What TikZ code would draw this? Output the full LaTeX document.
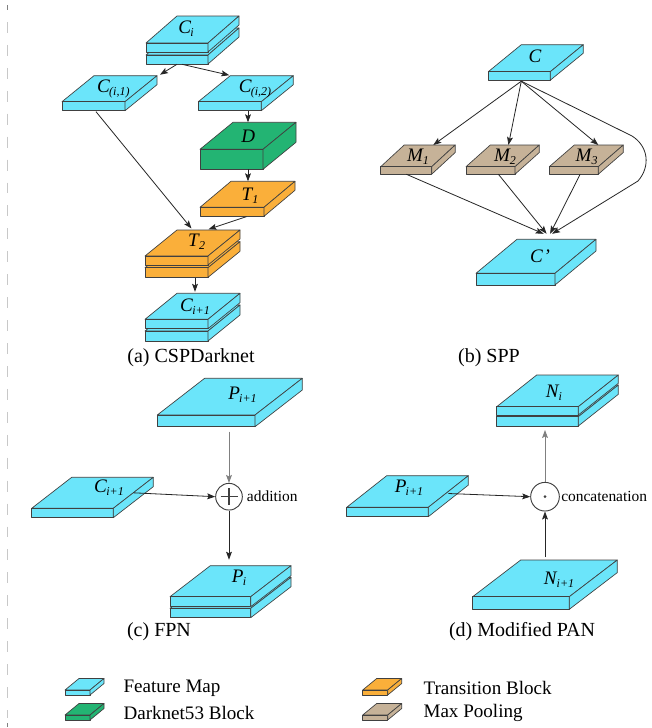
\documentclass[tikz,border=0pt]{standalone}
\usepackage{fontspec}
\setmainfont{Liberation Serif}
\usetikzlibrary{arrows.meta,calc}
\definecolor{fmap}{HTML}{6BE5FA}
\definecolor{dnet}{HTML}{23B473}
\definecolor{trans}{HTML}{FAAF3A}
\definecolor{mpool}{HTML}{C6B298}
\definecolor{edge}{HTML}{404040}
\definecolor{linec}{HTML}{262626}
\definecolor{dashc}{HTML}{C8C8C8}
\tikzset{
 slabline/.style={draw=edge, line width=0.5pt, line join=round},
 conn/.style={draw=linec, line width=0.6pt, -{Stealth[length=6pt,width=4.4pt,inset=1.2pt]}},
 lbl/.style={inner sep=0pt, font=\fontsize{14.3}{16}\selectfont},
 captxt/.style={font=\fontsize{15}{18}\selectfont, inner sep=0pt},
 legtxt/.style={font=\fontsize{14.3}{17}\selectfont, anchor=west, inner sep=0pt},
 optxt/.style={font=\fontsize{11.6}{14}\selectfont, anchor=west, inner sep=0pt},
 opnode/.style={circle, draw=edge, line width=0.7pt, fill=white, inner sep=0pt},
}
% name, x, y (front-top-left), front width, depth dx, depth dy, thickness, colour
\newcommand{\slab}[8]{%
 \path (#2,#3) coordinate (#1-ftl) ++(#4,0) coordinate (#1-ftr) ++(#5,-#6) coordinate (#1-btr) ++(-#4,0) coordinate (#1-btl);
 \path (#1-ftl) ++(0,#7) coordinate (#1-fbl);
 \path (#1-ftr) ++(0,#7) coordinate (#1-fbr);
 \path (#1-btr) ++(0,#7) coordinate (#1-bbr);
 \coordinate (#1-tc) at ($(#1-ftl)!0.5!(#1-btr)$);
 \coordinate (#1-fbc) at ($(#1-fbl)!0.5!(#1-fbr)$);
 \coordinate (#1-btc) at ($(#1-btl)!0.5!(#1-btr)$);
 \filldraw[slabline, fill=#8] (#1-ftl) -- (#1-ftr) -- (#1-btr) -- (#1-btl) -- cycle;
 \filldraw[slabline, fill=#8] (#1-ftl) -- (#1-ftr) -- (#1-fbr) -- (#1-fbl) -- cycle;
 \filldraw[slabline, fill=#8] (#1-ftr) -- (#1-btr) -- (#1-bbr) -- (#1-fbr) -- cycle;
}
\newcommand{\mylab}[2]{\textit{#1}\kern-0.6pt\raisebox{-0.35ex}{\fontsize{9}{9}\selectfont\textit{#2}}}
\begin{document}
\begin{tikzpicture}[x=0.75pt,y=-0.75pt]
\useasboundingbox[fill=white] (0,0) rectangle (652,728);
% left dashed rule
\draw[dashc, line width=0.75pt, dash pattern=on 8.2pt off 9pt] (7.3,22) -- (7.3,718);
\draw[gray, line width=0.9pt] (7.3,5) -- (7.3,10);
\draw[gray, line width=0.9pt] (7.3,723) -- (7.3,727);

% ===== (a) CSPDarknet =====
\slab{Cib}{146}{55}{62}{31}{27}{9}{fmap}
\slab{Ci}{146}{43}{62}{31}{27}{9}{fmap}
\slab{Ca}{62}{101.7}{63}{32}{26}{9}{fmap}
\slab{Cb}{198.3}{101.7}{63}{32}{26}{9}{fmap}
\slab{D}{200}{149.3}{63}{33}{27}{20}{dnet}
\slab{T1}{200}{207.3}{64}{31}{26}{9}{trans}
\slab{T2b}{145}{267.7}{63}{32}{26}{9.6}{trans}
\slab{T2}{145}{256}{63}{32}{26}{9}{trans}
\slab{Cnb}{145}{331}{63}{32}{26}{10}{fmap}
\slab{Cn}{145}{319.3}{63}{32}{26}{9.4}{fmap}
\node[lbl] (lCi) at (186,29) {\mylab{C}{i}};
\node[lbl] (lCa) at (113.3,89) {\mylab{C}{(i,1)}};
\node[lbl] (lCb) at (255,89) {\mylab{C}{(i,2)}};
\node[lbl] (lD) at (248.3,136.7) {\textit{D}};
\node[lbl] (lT1) at (250,196) {\mylab{T}{1}};
\node[lbl] (lT2) at (196.7,241.7) {\mylab{T}{2}};
\node[lbl] (lCn) at (195,306.7) {\mylab{C}{i+1}};
\draw[conn] ($(Cib-fbc)+(0,0.3)$) -- ($(Ca-btr)+(3,-1)$);
\draw[conn] ($(Cib-fbc)+(5,0.3)$) -- ($(Cb-btl)+(-1,-0.5)$);
\draw[conn] (D-tc |- Cb-fbl) -- (D-tc |- D-btl);
\draw[conn] (D-tc |- D-fbl) -- (D-tc |- T1-btl);
\draw[conn] ($(Ca-fbc)+(2.5,1)$) -- ($(T2-tc |- T2-btl)+(-1,-1.5)$);
\draw[conn] ($(T1-tc |- T1-fbl)+(-1,0.3)$) -- ($(T2-btc)+(0,-0.7)$);
\draw[conn] ($(Cn-tc |- T2b-fbl)+(2.5,1)$) -- ($(Cn-tc |- Cn-btl)+(2.5,-1.5)$);
\node[captxt] (capa) at (191,358) {(a) CSPDarknet};

% ===== (b) SPP =====
\slab{C}{488.3}{71.7}{62}{33}{27}{8.5}{fmap}
\slab{M1}{380.7}{166.7}{51}{23.5}{21.7}{7.5}{mpool}
\slab{M2}{466}{166.7}{49}{24.3}{21.7}{7.5}{mpool}
\slab{M3}{549.3}{166.7}{49}{25}{21.7}{7.5}{mpool}
\slab{Cp}{476}{273.3}{79}{41}{34}{11.7}{fmap}
\node[lbl] (lC) at (535,56.7) {\textit{C}};
\node[lbl] (lM1) at (418,157) {\mylab{M}{1}};
\node[lbl] (lM2) at (505,157) {\mylab{M}{2}};
\node[lbl] (lM3) at (586.7,157) {\mylab{M}{3}};
\node[lbl] (lCp) at (540,256.7) {\textit{C\kern0.5pt'}};
\coordinate (Cpin) at ($($(Cp-btl)!0.4!(Cp-btr)$)+(0,-5.5)$);
\coordinate (Cout) at ($(C-fbc)+(2,1)$);
\draw[conn] (Cout) -- ($(M1-btl)!0.57!(M1-btr)$);
\draw[conn] (Cout) -- ($(M2-btl)!0.37!(M2-btr)$);
\draw[conn] (Cout) -- ($(M3-btl)!0.49!(M3-btr)$);
\draw[conn] (Cout) -- (632,136) .. controls (648,146) and (651,166) .. (638,181) -- ($(Cpin)+(3.5,0)$);
\draw[conn] (M1-fbc) -- ($(Cpin)+(-5,0)$);
\draw[conn] ($(M2-fbl)!0.66!(M2-fbr)$) -- ($(Cpin)+(-2,0)$);
\draw[conn] ($(M3-fbl)!0.63!(M3-fbr)$) -- ($(Cpin)+(1.5,0)$);
\node[captxt] (capb) at (489,358) {(b) SPP};

% ===== (c) FPN =====
\slab{Pa}{157.3}{415}{97.7}{47.3}{36.7}{11.7}{fmap}
\slab{Cf}{31.7}{508.3}{81.6}{40}{31}{9.4}{fmap}
\slab{Pib}{170}{608.3}{80.7}{40.3}{31}{9.4}{fmap}
\slab{Pi}{170}{596.7}{80.7}{40.3}{31}{10}{fmap}
\node[lbl] (lPa) at (242.5,395) {\mylab{P}{i+1}};
\node[lbl] (lCf) at (109,488) {\mylab{C}{i+1}};
\node[lbl] (lPi) at (239,578) {\mylab{P}{i}};
\node[opnode, minimum size=20pt] (add) at (229,496.7) {};
\draw[edge, line width=0.9pt] (add.center) +(-8.5,0) -- +(8.5,0) +(0,-8.5) -- +(0,8.5);
\node[optxt] (addt) at (246.7,496.7) {addition};
\draw[conn, draw=gray] ($(add |- Pa-fbl)+(0,5)$) -- (add.north);
\draw[conn] ($(Cf-ftr)!0.5!(Cf-btr)$) -- (add.west);
\draw[conn] (add.south) -- ($(add |- Pi-btl)+(0,-6)$);
\node[captxt] (capc) at (159,632) {(c) FPN};

% ===== (d) Modified PAN =====
\slab{Nib}{496.7}{416.7}{81.6}{40}{31.7}{9.3}{fmap}
\slab{Ni}{496.7}{406.7}{81.6}{40}{31.7}{8.3}{fmap}
\slab{Pd}{346.7}{507.3}{81.6}{40}{31.6}{9.4}{fmap}
\slab{Nn}{472.7}{596.7}{96.6}{48}{36.7}{12.6}{fmap}
\node[lbl] (lNi) at (554,393) {\mylab{N}{i}};
\node[lbl] (lPd) at (409,488) {\mylab{P}{i+1}};
\node[lbl] (lNn) at (559,580) {\mylab{N}{i+1}};
\node[opnode, minimum size=21.5pt] (cat) at (545,496.7) {};
\fill[edge] (cat.center) circle (1.5);
\node[optxt] (catt) at (561,496.7) {concatenation};
\draw[conn] ($(Pd-ftr)!0.5!(Pd-btr)+(0,2)$) -- (cat.west);
\draw[conn] ($(cat |- Nn-btl)+(0,-3)$) -- (cat.south);
\draw[conn, draw=gray] (cat.north) -- ($(cat |- Nib-fbl)+(0,4)$);
\node[captxt] (capd) at (522,632) {(d) Modified PAN};

% ===== legend =====
\slab{Lf}{65}{690}{25}{14}{11.5}{5}{fmap}
\slab{Ld}{65}{715}{25}{14}{11.5}{5}{dnet}
\slab{Lt}{362.7}{690}{25}{14}{11.5}{5}{trans}
\slab{Lm}{362.7}{715}{25}{14}{11.5}{5}{mpool}
\node[legtxt] (tf) at (123.3,688.3) {Feature Map};
\node[legtxt] (td) at (123.3,713.3) {Darknet53 Block};
\node[legtxt] (tt) at (423.3,688.3) {Transition Block};
\node[legtxt] (tm) at (423.3,713.3) {Max Pooling};
\end{tikzpicture}
\end{document}
